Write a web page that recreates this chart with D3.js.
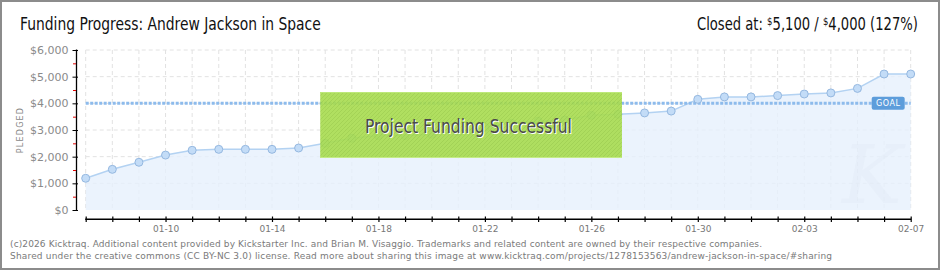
<!DOCTYPE html>
<html>
<head>
<meta charset="utf-8">
<script src="https://cdn.jsdelivr.net/npm/d3@7"></script>
<style>
  html, body { margin: 0; padding: 0; background: #fff; }
  svg { display: block; }
</style>
</head>
<body>
<svg id="chart" width="940" height="270"></svg>
<script>
// data, one value per day starting 01-07
const startDay = "2013-01-07";
const pledged = [1190, 1525, 1790, 2060, 2240, 2275, 2275, 2275, 2325, 2500,
  2690, 2790, 2790, 2840, 2950, 3100, 3250, 3330, 3375, 3550,
  3590, 3640, 3710, 4150, 4240, 4240, 4290, 4350, 4390, 4560,
  5100, 5100];
const goal = 4000;
const yTicks = [0, 1000, 2000, 3000, 4000, 5000, 6000];
const yMinorTicks = [500, 1500, 2500, 3500, 4500, 5500];
const xTickLabels = ["01-10", "01-14", "01-18", "01-22", "01-26", "01-30", "02-03", "02-07"];

const narrow = "'DejaVu Sans Condensed', 'DejaVu Sans', sans-serif";
const fmtDay = d3.timeFormat("%m-%d");
const start = d3.timeParse("%Y-%m-%d")(startDay);
const data = pledged.map((v, i) => ({ date: d3.timeDay.offset(start, i), value: v }));

const svg = d3.select("#chart");
const x = d3.scaleTime()
  .domain(d3.extent(data, d => d.date))
  .range([85.7, 910.7]);
const y = d3.scaleLinear().domain([0, 6000]).range([210, 50]);

// squeeze a text horizontally so it spans the wanted width
function squeeze(g, left, width) {
  const t = g.select("text");
  const w = t.node().getComputedTextLength();
  g.attr("transform", `translate(${left},0) scale(${width / w},1)`);
}

const defs = svg.append("defs");
const hatch = defs.append("pattern")
  .attr("id", "hatch")
  .attr("patternUnits", "userSpaceOnUse")
  .attr("width", 4).attr("height", 4);
hatch.append("path")
  .attr("d", "M-1,1 l2,-2 M0,4 l4,-4 M3,5 l2,-2")
  .attr("stroke", "rgba(60,110,0,0.10)")
  .attr("stroke-width", 1);

// frame
svg.append("rect")
  .attr("x", 1).attr("y", 1).attr("width", 938).attr("height", 268)
  .attr("fill", "#fff").attr("stroke", "#8c8c8c").attr("stroke-width", 2);

// titles
const titleG = svg.append("g");
titleG.append("text")
  .attr("y", 30)
  .attr("font-family", narrow)
  .attr("font-size", 17)
  .attr("fill", "#111")
  .text("Funding Progress: Andrew Jackson in Space");
squeeze(titleG, 20, 301);

const closedG = svg.append("g");
const closed = closedG.append("text")
  .attr("y", 30)
  .attr("font-family", narrow)
  .attr("font-size", 17)
  .attr("fill", "#111");
closed.append("tspan").text("Closed at:  ");
closed.append("tspan").attr("font-size", 11).attr("dy", -5).text("$");
closed.append("tspan").attr("dy", 5).text("5,100 /  ");
closed.append("tspan").attr("font-size", 11).attr("dy", -5).text("$");
closed.append("tspan").attr("dy", 5).text("4,000 (127%)");
squeeze(closedG, 697, 221);

// grid
const grid = svg.append("g")
  .attr("stroke", "#e2e2e2")
  .attr("stroke-dasharray", "4,3");
grid.selectAll(".vg").data(data).enter().append("line")
  .attr("x1", d => x(d.date)).attr("x2", d => x(d.date))
  .attr("y1", y(6000)).attr("y2", y(0));
grid.selectAll(".hg").data(yTicks.filter(t => t > 0)).enter().append("line")
  .attr("x1", x.range()[0]).attr("x2", x.range()[1])
  .attr("y1", d => y(d)).attr("y2", d => y(d));

// area + line
svg.append("path")
  .datum(data)
  .attr("fill", "#e6f0fc")
  .attr("fill-opacity", 0.8)
  .attr("d", d3.area().x(d => x(d.date)).y0(y(0)).y1(d => y(d.value)));

svg.append("text")
  .attr("x", 872).attr("y", 203)
  .attr("text-anchor", "middle")
  .attr("font-family", "'DejaVu Serif', serif")
  .attr("font-style", "italic")
  .attr("font-size", 80)
  .attr("fill", "#dfe8f4")
  .attr("fill-opacity", 0.35)
  .text("K");

svg.append("path")
  .datum(data)
  .attr("fill", "none")
  .attr("stroke", "#b3d2f2")
  .attr("stroke-width", 1.5)
  .attr("d", d3.line().x(d => x(d.date)).y(d => y(d.value)));

// goal line
svg.append("line")
  .attr("x1", x.range()[0]).attr("x2", x.range()[1])
  .attr("y1", y(goal)).attr("y2", y(goal))
  .attr("stroke", "#8dbbec")
  .attr("stroke-width", 3)
  .attr("stroke-dasharray", "3,1.5");

svg.append("g").selectAll("circle").data(data).enter().append("circle")
  .attr("cx", d => x(d.date))
  .attr("cy", d => y(d.value))
  .attr("r", 4)
  .attr("fill", "#c3dcf7")
  .attr("stroke", "#95b8e0")
  .attr("stroke-width", 1);

// goal tag
const goalTag = svg.append("g")
  .attr("transform", `translate(${x.range()[1] - 5},${y(goal)})`);
goalTag.append("rect")
  .attr("x", -34).attr("y", -6.5).attr("width", 33).attr("height", 13)
  .attr("rx", 2)
  .attr("fill", "#5d9ddb");
goalTag.append("text")
  .attr("x", -17.5).attr("y", 3)
  .attr("text-anchor", "middle")
  .attr("font-family", "'DejaVu Sans', sans-serif")
  .attr("font-size", 8)
  .attr("fill", "#fff")
  .attr("letter-spacing", 0.5)
  .text("GOAL");

// success banner
const bx0 = x(d3.timeDay.offset(start, 9)) - 5;
const bx1 = x(d3.timeDay.offset(start, 20)) + 4;
const banner = svg.append("g");
banner.append("rect")
  .attr("x", bx0).attr("y", 92).attr("width", bx1 - bx0).attr("height", 66)
  .attr("fill", "#a7dc4f").attr("fill-opacity", 0.9);
banner.append("rect")
  .attr("x", bx0).attr("y", 92).attr("width", bx1 - bx0).attr("height", 66)
  .attr("fill", "url(#hatch)");
banner.append("line")
  .attr("x1", bx0).attr("x2", bx1).attr("y1", 92.5).attr("y2", 92.5)
  .attr("stroke", "#bde87a");
banner.append("line")
  .attr("x1", bx0).attr("x2", bx1).attr("y1", 157.5).attr("y2", 157.5)
  .attr("stroke", "#c4ec86");
const shadowG = banner.append("g");
shadowG.append("text")
  .attr("y", 134)
  .attr("font-family", narrow)
  .attr("font-size", 20)
  .attr("fill", "#fff")
  .text("Project Funding Successful");
squeeze(shadowG, 366, 207);
const msgG = banner.append("g");
msgG.append("text")
  .attr("y", 133)
  .attr("font-family", narrow)
  .attr("font-size", 20)
  .attr("fill", "#4a4a4a")
  .text("Project Funding Successful");
squeeze(msgG, 365, 207);

// y axis
const yAxis = svg.append("g")
  .attr("transform", "translate(76.5,0)")
  .call(d3.axisLeft(y).tickValues(yTicks).tickSize(4).tickPadding(4)
    .tickFormat(d => "$" + d3.format(",")(d)));
yAxis.select(".domain").attr("stroke", "#000").attr("stroke-width", 1.3)
  .attr("d", `M0,${y(6000) - 0.5}V${y(0) + 0.5}`);
yAxis.selectAll(".tick line").attr("x2", 1.5).attr("x1", -4).attr("stroke", "#000");
yAxis.selectAll(".tick text")
  .attr("font-family", "'DejaVu Sans', sans-serif")
  .attr("font-size", 11)
  .attr("fill", "#8a8a8a");

svg.append("g")
  .attr("transform", "translate(76,0)")
  .call(d3.axisLeft(y).tickValues(yMinorTicks).tickSize(3).tickFormat(""))
  .call(g => g.select(".domain").remove())
  .selectAll(".tick line").attr("stroke", "#e00000");

svg.append("text")
  .attr("transform", `translate(23,${(y(0) + y(6000)) / 2}) rotate(-90)`)
  .attr("text-anchor", "middle")
  .attr("font-family", "'DejaVu Sans', sans-serif")
  .attr("font-size", 8)
  .attr("letter-spacing", 1.2)
  .attr("fill", "#888")
  .text("PLEDGED");

// x axis
const xAxis = svg.append("g")
  .attr("transform", "translate(0,216.5)")
  .call(d3.axisBottom(x).tickValues(data.map(d => d.date)).tickSize(5.5).tickPadding(4)
    .tickFormat(d => xTickLabels.includes(fmtDay(d)) ? fmtDay(d) : ""));
xAxis.select(".domain").remove();
xAxis.selectAll(".tick line").attr("stroke", "#000").attr("stroke-width", 1.2);
xAxis.selectAll(".tick text")
  .attr("font-family", "'DejaVu Sans', sans-serif")
  .attr("font-size", 9)
  .attr("fill", "#777");
svg.append("line")
  .attr("x1", x.range()[0] - 0.5).attr("x2", x.range()[1] + 0.5)
  .attr("y1", 219.3).attr("y2", 219.3)
  .attr("stroke", "#000").attr("stroke-width", 1.4);

// footer
const footer = [
  "(c)2026 Kicktraq. Additional content provided by Kickstarter Inc. and Brian M. Visaggio. Trademarks and related content are owned by their respective companies.",
  "Shared under the creative commons (CC BY-NC 3.0) license. Read more about sharing this image at www.kicktraq.com/projects/1278153563/andrew-jackson-in-space/#sharing"
];
const footerWidths = [752, 822];
svg.selectAll(".foot").data(footer).enter().append("text")
  .attr("x", 10)
  .attr("y", (d, i) => 246.5 + i * 12.4)
  .attr("font-family", "'DejaVu Sans', sans-serif")
  .attr("font-size", 9)
  .attr("fill", "#7a7a7a")
  .attr("textLength", (d, i) => footerWidths[i])
  .attr("lengthAdjust", "spacing")
  .text(d => d);
</script>
</body>
</html>
